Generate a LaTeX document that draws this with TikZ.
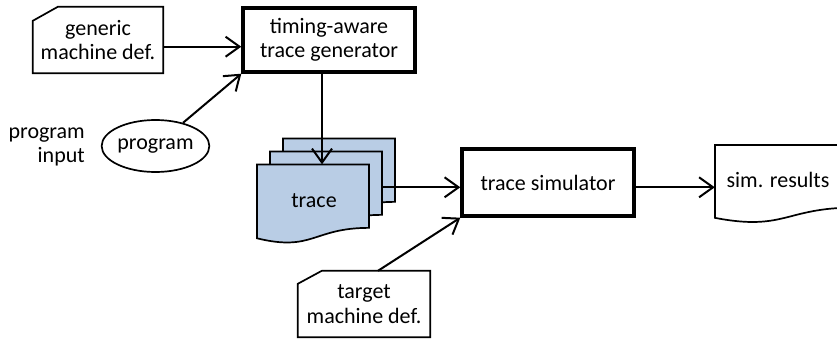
\documentclass[tikz,border=0pt]{standalone}
\usepackage{fontspec}
\setmainfont{Carlito}
\usetikzlibrary{arrows.meta,shapes.geometric}

% flowchart "document" outline: x, y (top), width, height, style
\newcommand\docoutline[5]{%
  \draw[#5] (#1,#2) -- ({#1+#3},#2) -- ({#1+#3},{#2+0.802*#4})
    .. controls ({#1+0.5*#3},{#2+0.802*#4}) and ({#1+0.5*#3},{#2+1.107*#4})
    .. (#1,{#2+0.934*#4}) -- cycle;}

\begin{document}
\begin{tikzpicture}[x=1pt,y=-1pt,
  lbl/.style={font=\fontsize{22}{24.5}\selectfont, align=center, inner sep=0pt},
  thinline/.style={line width=1.7pt, draw=black},
  thickbox/.style={lbl, draw=black, line width=3.4pt},
  area/.style={lbl},
  tracedoc/.style={thinline, fill=traceblue},
  arr/.style={line width=2pt, -{Straight Barb[length=14pt,width=20pt,line width=2pt]}}]
\definecolor{traceblue}{HTML}{B9CDE5}
\useasboundingbox (0,0) rectangle (837,340);

% input cards
\node[area, minimum width=130pt, minimum height=66pt] (gen) at (98,40) {generic\\machine def.};
\draw[thinline] ([xshift=25pt]gen.north west) -- (gen.north east) -- (gen.south east)
  -- (gen.south west) -- ([yshift=-14pt]gen.north west) -- cycle;

\node[area, minimum width=132pt, minimum height=66pt] (tgt) at (364,304) {target\\machine def.};
\draw[thinline] ([xshift=24pt]tgt.north west) -- (tgt.north east) -- (tgt.south east)
  -- (tgt.south west) -- ([yshift=-13pt]tgt.north west) -- cycle;

% processing boxes
\node[thickbox, minimum width=172pt, minimum height=64pt] (tag) at (329,40) {timing-aware\\trace generator};
\node[thickbox, minimum width=172pt, minimum height=67pt] (sim) at (548,182.5) {trace simulator};

% program input
\node[lbl, draw=black, line width=1.7pt, ellipse, minimum width=105pt, minimum height=52pt] (prog) at (155.5,146) {program};
\node[lbl, align=right, anchor=east] (pin) at (85,147) {program\\input};

% stacked trace documents
\docoutline{283}{138.5}{112}{79}{tracedoc}
\docoutline{270}{151.5}{112}{79}{tracedoc}
\docoutline{257}{164.5}{112}{79}{tracedoc}
\node[area, minimum width=112pt, minimum height=72pt] (front) at (314,200.5) {trace};
\node[area, minimum width=112pt, minimum height=71.6pt] (mid) at (326,187.3) {};

% result document (runs off the right edge)
\docoutline{715}{145}{140}{78}{thinline, fill=white}
\node[area, minimum width=126pt] (res) at (778,180) {sim. results};

% connectors
\draw[arr] ([yshift=-6.7pt]gen.east) -- ([yshift=-6.7pt]tag.west);
\draw[arr] (prog) -- (tag.south west);
\draw[arr] ([xshift=-7pt]tag.south) -- ([xshift=-7pt]tag.south |- front.north);
\draw[arr] (mid.east) -- (sim.west |- mid.east);
\draw[arr] ([xshift=14pt]tgt.north) -- (sim.south west);
\draw[arr] (sim.east |- mid.east) -- (res.west |- mid.east);
\end{tikzpicture}
\end{document}
